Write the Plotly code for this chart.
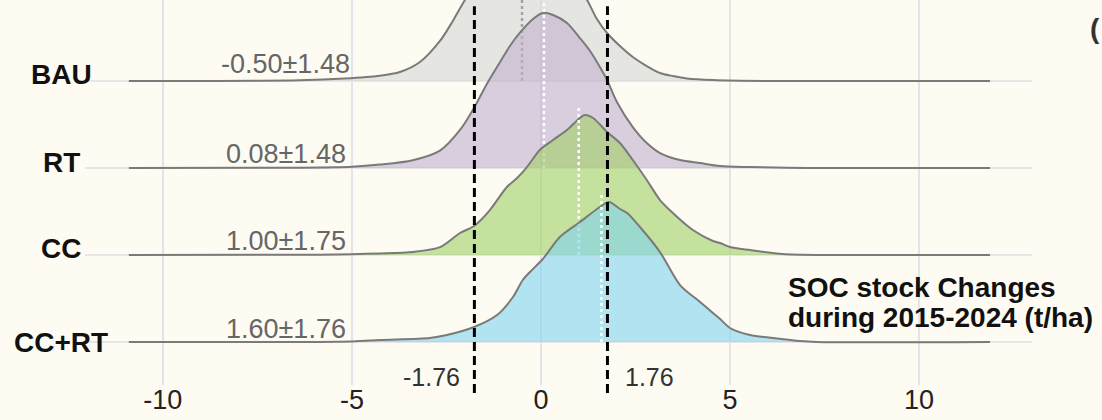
import plotly.graph_objects as go

# ---------------- data ----------------
groups = ["BAU", "RT", "CC", "CC+RT"]
baselines = [3, 2, 1, 0]
stat_labels = ["-0.50±1.48", "0.08±1.48", "1.00±1.75", "1.60±1.76"]
means = [-0.50, 0.08, 1.00, 1.60]
mean_line_heights = [1.95, 1.93, 1.70, 1.70]

bau_x = [-10.9, -6.38, -5.19, -4.26, -3.73, -3.20, -2.67, -2.33, -2.01, -1.51, -1.1, -0.8, -0.5, -0.2,
         0.1, 0.5, 0.85, 1.22, 1.48, 1.75, 2.09, 2.43, 2.80, 3.15, 3.49, 3.86, 4.55, 6.0, 11.88]
bau_h = [0, 0.008, 0.028, 0.060, 0.103, 0.218, 0.460, 0.690, 0.931, 1.241, 1.494, 1.644, 1.747, 1.724,
         1.621, 1.402, 1.161, 0.931, 0.713, 0.552, 0.402, 0.276, 0.172, 0.092, 0.057, 0.029, 0.011, 0, 0]

rt_x = [-10.9, -6.4, -5.0, -4.26, -3.39, -2.67, -2.14, -1.77, -1.43, -1.08, -0.82, -0.56, -0.21, 0.05,
        0.32, 0.69, 1.03, 1.30, 1.56, 1.75, 2.01, 2.43, 2.80, 3.15, 3.68, 4.21, 4.74, 5.5, 7.0, 11.88]
rt_h = [0, 0.004, 0.015, 0.040, 0.090, 0.200, 0.437, 0.690, 0.966, 1.218, 1.402, 1.552, 1.713, 1.782,
        1.759, 1.667, 1.494, 1.345, 1.161, 1.011, 0.759, 0.471, 0.287, 0.172, 0.092, 0.057, 0.023, 0.011,
        0, 0]

cc_x = [-10.9, -6.0, -5.0, -4.26, -3.39, -2.67, -2.14, -1.77, -1.35, -0.90, -0.63, -0.37, -0.03, 0.32,
        0.69, 1.03, 1.16, 1.38, 1.75, 2.09, 2.43, 2.80, 3.15, 3.49, 4.02, 4.55, 4.74, 5.0, 5.53, 6.40,
        7.5, 11.88]
cc_h = [0, 0.004, 0.010, 0.018, 0.035, 0.090, 0.253, 0.333, 0.517, 0.782, 0.885, 1.011, 1.207, 1.322,
        1.437, 1.575, 1.609, 1.575, 1.414, 1.287, 1.092, 0.862, 0.632, 0.483, 0.287, 0.161, 0.138, 0.092,
        0.057, 0.011, 0, 0]

ccrt_x = [-10.9, -5.0, -4.26, -2.94, -2.49, -1.77, -1.16, -0.74, -0.48, -0.29, 0.05, 0.50, 1.03, 1.56,
          1.80, 2.09, 2.28, 2.62, 3.15, 3.68, 4.21, 4.55, 4.74, 5.0, 5.53, 6.14, 6.85, 7.30, 11.88]
ccrt_h = [0, 0.006, 0.023, 0.046, 0.080, 0.172, 0.310, 0.517, 0.713, 0.805, 0.954, 1.207, 1.379, 1.552,
          1.609, 1.529, 1.483, 1.322, 1.034, 0.655, 0.460, 0.333, 0.264, 0.161, 0.080, 0.046, 0.011, 0, 0]

threshold = 1.76
x_ticks = [-10, -5, 0, 5, 10]
axis_title_lines = ["SOC stock Changes", "during 2015-2024 (t/ha)"]

# ---------------- styles ----------------
BG = "#fdfbf2"
FONT = "Liberation Sans, Arial"
fills = ["rgba(214,215,214,0.6)", "rgba(193,176,207,0.6)", "rgba(160,208,102,0.6)", "rgba(126,211,239,0.6)"]
mean_colors = ["#a3a3a3", "white", "white", "white"]
label_yshift = [7, 6, 7, 0]
stat_yshift = [17, 14, 14, 13]

xs_all = [bau_x, rt_x, cc_x, ccrt_x]
hs_all = [bau_h, rt_h, cc_h, ccrt_h]

fig = go.Figure()
for g, b, xs, hs, fc, m, mh, mc in zip(groups, baselines, xs_all, hs_all, fills, means,
                                       mean_line_heights, mean_colors):
    fig.add_trace(go.Scatter(x=[xs[0], xs[-1]], y=[b, b], mode="lines",
                             line=dict(width=0, color=BG), hoverinfo="skip", showlegend=False))
    fig.add_trace(go.Scatter(x=xs, y=[b + h for h in hs], mode="lines", fill="tonexty",
                             fillcolor=fc, line=dict(color="#7a7a7a", width=2, shape="spline", smoothing=0.8),
                             name=g, showlegend=False))
    fig.add_trace(go.Scatter(x=[m, m], y=[b, b + mh], mode="lines",
                             line=dict(color=mc, width=2.5, dash="dot"), hoverinfo="skip", showlegend=False))

annotations = []
for g, b, s, ly, sy in zip(groups, baselines, stat_labels, label_yshift, stat_yshift):
    annotations.append(dict(xref="paper", x=-0.0253, y=b, yref="y", text=f"<b>{g}</b>", showarrow=False,
                            xanchor="center", yanchor="middle", yshift=ly,
                            font=dict(family=FONT, size=28, color="#111")))
    annotations.append(dict(xref="x", x=-6.75, y=b, yref="y", text=s, showarrow=False,
                            xanchor="center", yanchor="middle", yshift=sy,
                            font=dict(family=FONT, size=27, color="#666")))

annotations.append(dict(xref="x", x=-threshold, yref="paper", y=0.021, text=f"-{threshold:.2f}",
                        showarrow=False, xanchor="right", xshift=-12, yanchor="middle",
                        font=dict(family=FONT, size=25, color="#333")))
annotations.append(dict(xref="x", x=threshold, yref="paper", y=0.021, text=f"{threshold:.2f}",
                        showarrow=False, xanchor="left", xshift=16, yanchor="middle",
                        font=dict(family=FONT, size=25, color="#333")))
for txt, yy in zip(axis_title_lines, [0.632, 0.287]):
    annotations.append(dict(xref="x", x=6.48, yref="y", y=yy, text=f"<b>{txt}</b>", showarrow=False,
                            xanchor="left", yanchor="middle",
                            font=dict(family=FONT, size=28, color="#111")))
annotations.append(dict(xref="paper", x=1.059, yref="paper", y=0.925, text="<b>(</b>", showarrow=False,
                        xanchor="left", yanchor="middle",
                        font=dict(family=FONT, size=28, color="#333")))

shapes = []
for xv in [-threshold, threshold]:
    shapes.append(dict(type="line", xref="x", yref="paper", x0=xv, x1=xv, y0=-0.021, y1=0.984,
                       line=dict(color="black", width=3, dash="9px,5px"), layer="above"))

fig.update_layout(
    width=1102, height=420,
    margin=dict(l=85, r=70, t=0, b=35),
    paper_bgcolor=BG, plot_bgcolor=BG,
    annotations=annotations, shapes=shapes,
    showlegend=False,
    xaxis=dict(range=[-12.06, 12.99], tickvals=x_ticks, ticktext=[str(t) for t in x_ticks],
               showgrid=True, gridcolor="#e3e3e8", gridwidth=2, zeroline=False, showline=False,
               ticks="", ticklabelstandoff=-4,
               tickfont=dict(family=FONT, size=27, color="#222")),
    yaxis=dict(range=[-0.494, 3.931], tickvals=baselines, showticklabels=False,
               showgrid=True, gridcolor="#e6e6e6", gridwidth=2, zeroline=False, showline=False, ticks=""),
)

fig.write_html("out.html", config={"displayModeBar": False},
               post_script="document.body.style.margin='0px';")
